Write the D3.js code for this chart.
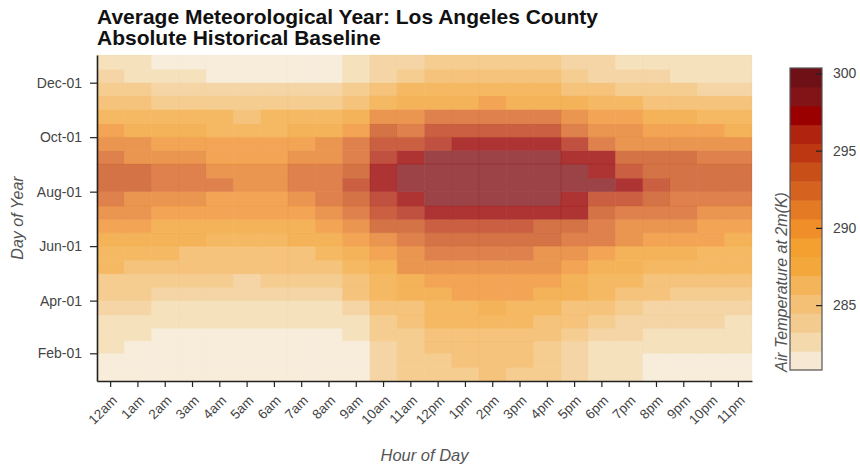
<!DOCTYPE html>
<html>
<head>
<meta charset="utf-8">
<script src="https://cdn.jsdelivr.net/npm/d3@7"></script>
<style>
  body { margin: 0; background: #fff; font-family: "Liberation Sans", Arial, sans-serif; }
</style>
</head>
<body>
<div id="chart"></div>
<script>
// hour columns
const hourLabels = ["12am","1am","2am","3am","4am","5am","6am","7am","8am","9am","10am","11am",
                    "12pm","1pm","2pm","3pm","4pm","5pm","6pm","7pm","8pm","9pm","10pm","11pm"];

// half-month periods (start dates), last one ends on Jan-01 of the next year
const periodStarts = ["2019-01-01","2019-01-16","2019-02-01","2019-02-15","2019-03-01","2019-03-16",
                      "2019-04-01","2019-04-16","2019-05-01","2019-05-16","2019-06-01","2019-06-16",
                      "2019-07-01","2019-07-16","2019-08-01","2019-08-16","2019-09-01","2019-09-16",
                      "2019-10-01","2019-10-16","2019-11-01","2019-11-16","2019-12-01","2019-12-16"];
const yearEnd = "2020-01-01";

// air temperature at 2m (K), one row per period, 24 hourly values
const tempK = [
  [281.8,281.6,281.2,281.1,281.0,281.0,281.1,281.0,281.0,281.5,283.6,284.5,285.3,285.6,285.7,285.5,285.1,284.0,282.8,282.2,281.9,281.8,281.7,281.8],
  [281.9,281.7,281.3,281.2,281.1,281.0,281.0,281.1,281.1,281.7,283.8,284.8,285.6,285.9,286.0,285.7,285.3,284.1,282.9,282.3,282.0,281.9,281.8,281.9],
  [282.2,282.0,281.6,281.4,281.3,281.2,281.2,281.3,281.4,282.0,284.0,285.0,285.9,286.2,286.3,286.0,285.6,284.3,283.2,282.6,282.3,282.2,282.1,282.2],
  [282.6,282.4,282.0,281.8,281.7,281.6,281.6,281.7,281.8,282.5,284.6,285.5,286.5,286.8,286.9,286.6,286.2,285.2,284.2,283.3,282.9,282.7,282.6,282.6],
  [283.0,282.8,282.5,282.3,282.2,282.1,282.1,282.2,282.4,283.2,285.4,286.2,287.2,287.5,287.6,287.3,286.9,286.2,285.2,284.1,283.6,283.4,283.3,283.2],
  [283.6,283.4,283.0,282.8,282.7,282.6,282.6,282.8,283.1,284.0,286.1,286.9,287.8,288.1,288.2,287.9,287.5,286.8,285.8,284.8,284.3,284.1,283.9,283.8],
  [284.8,284.6,284.3,284.1,283.9,283.8,283.8,284.0,284.4,285.8,287.5,288.6,289.3,289.6,289.7,289.4,289.0,288.4,287.5,286.4,285.8,285.5,285.3,285.1],
  [285.5,285.3,284.9,284.7,284.5,284.4,284.5,284.7,285.2,286.5,288.1,289.2,289.8,290.1,290.2,289.9,289.5,288.9,288.1,287.1,286.5,286.2,285.9,285.8],
  [287.0,286.8,286.4,286.2,286.0,285.9,285.9,286.1,286.5,287.6,289.3,290.6,291.1,291.4,291.5,291.2,290.8,290.2,289.3,288.6,288.0,287.7,287.5,287.3],
  [287.6,287.4,287.0,286.8,286.6,286.5,286.5,286.7,287.1,288.2,289.9,291.3,291.8,292.1,292.2,291.9,291.5,290.9,289.9,289.2,288.6,288.3,288.1,287.9],
  [288.8,288.6,288.4,288.2,288.1,288.0,288.0,288.2,288.7,289.8,291.4,292.8,293.4,293.7,293.8,293.5,293.1,292.6,291.8,291.0,290.2,289.8,289.5,289.2],
  [289.8,289.6,289.2,289.0,288.8,288.7,288.7,288.9,289.6,291.0,293.2,293.8,294.4,294.8,295.0,294.7,294.1,293.4,292.3,291.7,291.2,290.8,290.5,290.3],
  [290.8,290.6,290.0,289.8,289.6,289.5,289.5,289.7,291.2,292.4,294.8,296.6,297.4,297.6,297.8,297.6,297.2,296.8,294.2,293.0,292.2,291.8,291.4,291.2],
  [291.8,291.5,290.8,290.6,290.4,290.3,290.4,290.6,292.0,293.2,295.8,297.6,298.4,298.6,298.7,298.5,298.2,297.4,295.2,294.8,293.2,292.8,292.4,292.2],
  [293.4,293.5,292.6,292.0,291.8,291.6,291.7,292.0,293.0,294.4,297.4,298.4,298.7,298.9,299.0,298.8,298.6,298.4,298.2,297.3,294.4,294.0,293.8,293.6],
  [293.2,293.3,292.4,291.9,291.7,291.5,291.6,291.9,292.8,294.0,297.3,298.3,298.6,298.8,298.9,298.7,298.5,298.1,297.4,294.4,293.8,293.6,293.4,293.2],
  [292.0,291.6,290.8,290.6,290.4,290.3,290.4,290.6,291.4,293.0,295.8,297.5,298.2,298.5,298.6,298.4,298.1,297.6,296.8,294.0,293.4,293.2,293.0,292.8],
  [291.0,290.6,290.0,289.8,289.7,289.6,289.7,289.9,290.6,292.4,294.4,295.2,296.2,297.3,297.5,297.3,297.0,295.8,292.8,291.6,291.2,291.0,290.8,290.7],
  [289.4,289.0,288.4,288.2,288.0,287.9,288.0,288.2,288.6,290.4,293.2,292.6,294.4,295.0,295.2,295.0,294.6,293.0,291.6,290.6,290.0,289.6,289.4,289.2],
  [288.0,287.8,287.4,287.2,287.0,286.9,287.0,287.2,287.6,288.8,290.8,291.0,292.0,292.5,292.6,292.4,292.0,291.6,290.4,289.6,288.8,288.4,288.1,287.9],
  [286.4,286.2,285.6,285.4,285.2,285.0,285.0,285.2,285.6,286.6,288.0,288.4,289.0,289.3,289.4,289.2,288.8,288.4,287.6,287.0,286.6,286.4,286.2,286.0],
  [285.0,284.8,284.2,283.9,283.7,283.5,283.5,283.6,283.8,285.0,286.6,287.0,287.4,287.8,287.9,287.6,287.3,286.8,285.8,285.0,284.8,284.6,284.4,284.2],
  [283.4,283.2,282.6,282.2,282.0,281.9,281.9,282.0,282.0,283.0,284.4,285.2,285.9,286.2,286.3,286.0,285.7,285.2,284.2,283.6,283.3,283.1,283.0,282.9],
  [282.8,282.6,282.0,281.8,281.6,281.5,281.5,281.6,281.6,282.4,283.6,284.2,285.0,285.3,285.4,285.2,284.8,284.2,283.4,282.9,282.7,282.5,282.4,282.3]
];

// y-axis ticks and colorbar ticks
const dayTicks = ["2019-02-01","2019-04-01","2019-06-01","2019-08-01","2019-10-01","2019-12-01"];
const colorTicks = [285, 290, 295, 300];
const tempRange = [280.8, 300.35];

// colormap, low -> high
const palette = ["#f6e8d2","#f3d9ab","#f3cb8f","#f4c076","#f3b45a","#f4a83c","#f3a030","#f08f2a",
                 "#e57a24","#d6621f","#c85018","#bd3812","#b0240f","#9a0000","#821418","#6e1015"];

const W = 860, H = 465;
const plot = {left: 97, right: 752, top: 55, bottom: 381};
const parseDay = d3.timeParse("%Y-%m-%d");

const svg = d3.select("#chart").append("svg")
    .attr("width", W)
    .attr("height", H);

const xScale = d3.scaleBand()
    .domain(hourLabels)
    .range([plot.left, plot.right]);

const yScale = d3.scaleTime()
    .domain([parseDay(periodStarts[0]), parseDay(yearEnd)])
    .range([plot.bottom, plot.top]);

const colorScale = d3.scaleQuantize()
    .domain(tempRange)
    .range(palette);

// flatten into cells
const cells = [];
tempK.forEach((row, i) => {
    const start = parseDay(periodStarts[i]);
    const end = parseDay(i + 1 < periodStarts.length ? periodStarts[i + 1] : yearEnd);
    row.forEach((v, h) => cells.push({start, end, hour: hourLabels[h], value: v}));
});

svg.append("g")
    .selectAll("rect")
    .data(cells)
    .enter()
    .append("rect")
        .attr("x", d => xScale(d.hour))
        .attr("y", d => yScale(d.end))
        .attr("width", xScale.bandwidth())
        .attr("height", d => yScale(d.start) - yScale(d.end))
        .attr("fill", d => colorScale(d.value))
        .attr("fill-opacity", 0.8)
        .attr("stroke", d => colorScale(d.value))
        .attr("stroke-opacity", 0.3)
        .attr("stroke-width", 0.6);

// axes
const yAxis = svg.append("g")
    .attr("transform", "translate(" + plot.left + ",0)")
    .call(d3.axisLeft(yScale)
        .tickValues(dayTicks.map(parseDay))
        .tickFormat(d3.timeFormat("%b-%d"))
        .tickSize(7)
        .tickSizeOuter(0)
        .tickPadding(8));

const xAxis = svg.append("g")
    .attr("transform", "translate(0," + plot.bottom + ")")
    .call(d3.axisBottom(xScale).tickSize(6).tickSizeOuter(0));

xAxis.selectAll("text")
    .attr("x", 0)
    .attr("y", 0)
    .attr("dy", "0.35em")
    .attr("text-anchor", "end")
    .attr("transform", "translate(4,17) rotate(-45)");

[yAxis, xAxis].forEach(g => {
    g.select(".domain").attr("stroke", "#222").attr("stroke-width", 1.6);
    g.selectAll(".tick line").attr("stroke", "#222").attr("stroke-width", 1.2);
    g.selectAll(".tick text")
        .attr("fill", "#444")
        .style("font-family", "Liberation Sans, Arial, sans-serif")
        .style("font-size", "13.5px");
});
yAxis.selectAll(".tick text").style("font-size", "14px");

// titles
const title = svg.append("text")
    .attr("x", plot.left)
    .attr("y", 24)
    .style("font-size", "21px")
    .style("font-weight", "bold")
    .attr("fill", "#111");
title.append("tspan").attr("x", plot.left).text("Average Meteorological Year: Los Angeles County");
title.append("tspan").attr("x", plot.left).attr("dy", 21).text("Absolute Historical Baseline");

svg.append("text")
    .attr("transform", "translate(23," + ((plot.top + plot.bottom) / 2) + ") rotate(-90)")
    .attr("text-anchor", "middle")
    .style("font-size", "16px")
    .style("font-style", "italic")
    .attr("fill", "#555")
    .text("Day of Year");

svg.append("text")
    .attr("x", (plot.left + plot.right) / 2)
    .attr("y", 461)
    .attr("text-anchor", "middle")
    .style("font-size", "16.5px")
    .style("font-style", "italic")
    .attr("fill", "#555")
    .text("Hour of Day");

// colorbar
const bar = {x: 790, w: 32, top: 68, bottom: 370};
const barScale = d3.scaleLinear()
    .domain(tempRange)
    .range([bar.bottom, bar.top]);

const step = (tempRange[1] - tempRange[0]) / palette.length;
svg.append("g")
    .selectAll("rect")
    .data(palette)
    .enter()
    .append("rect")
        .attr("x", bar.x)
        .attr("y", (c, i) => barScale(tempRange[0] + step * (i + 1)))
        .attr("width", bar.w)
        .attr("height", (c, i) => barScale(tempRange[0] + step * i) - barScale(tempRange[0] + step * (i + 1)) + 0.5)
        .attr("fill", c => c);

svg.append("rect")
    .attr("x", bar.x)
    .attr("y", bar.top)
    .attr("width", bar.w)
    .attr("height", bar.bottom - bar.top)
    .attr("fill", "none")
    .attr("stroke", "#555")
    .attr("stroke-width", 1.2);

const barAxis = svg.append("g")
    .attr("transform", "translate(" + (bar.x + bar.w) + ",0)")
    .call(d3.axisLeft(barScale).tickValues(colorTicks).tickSize(6).tickFormat(d3.format("d")));
barAxis.select(".domain").remove();
barAxis.selectAll(".tick line").attr("stroke", "#222").attr("stroke-width", 1.2);
barAxis.selectAll(".tick text")
    .attr("x", 11)
    .attr("text-anchor", "start")
    .attr("fill", "#444")
    .style("font-family", "Liberation Sans, Arial, sans-serif")
    .style("font-size", "14px");

svg.append("text")
    .attr("transform", "translate(787,372) rotate(-90)")
    .attr("text-anchor", "start")
    .style("font-size", "16px")
    .style("font-style", "italic")
    .attr("fill", "#555")
    .text("Air Temperature at 2m(K)");
</script>
</body>
</html>
